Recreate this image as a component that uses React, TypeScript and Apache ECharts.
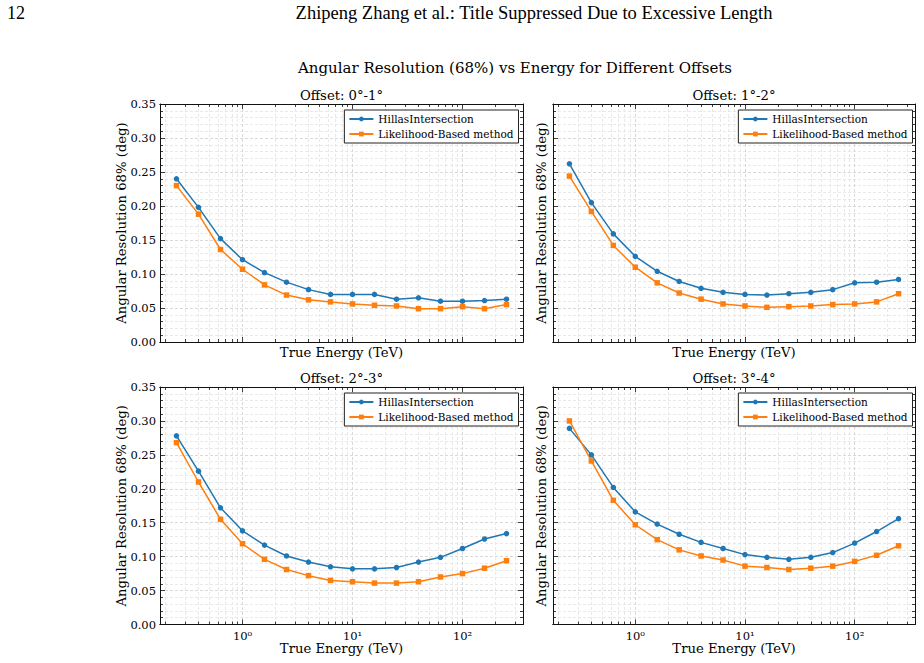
import React, { useEffect, useRef } from 'react';
import * as echarts from 'echarts';

// Energy bin centres (TeV), shared by all offset bands
const energies = [0.251, 0.398, 0.631, 1.0, 1.585, 2.512, 3.981, 6.31, 10.0, 15.85, 25.12, 39.81, 63.1, 100.0, 158.5, 251.2];

const seriesNames = ['HillasIntersection', 'Likelihood-Based method'];
const panelTitles = ['Offset: 0°-1°', 'Offset: 1°-2°', 'Offset: 2°-3°', 'Offset: 3°-4°'];

// 68% containment radius (deg), HillasIntersection
const hillas0to1 = [0.240, 0.198, 0.152, 0.121, 0.102, 0.088, 0.077, 0.070, 0.070, 0.070, 0.063, 0.065, 0.060, 0.060, 0.061, 0.063];
const hillas1to2 = [0.262, 0.205, 0.159, 0.126, 0.104, 0.089, 0.079, 0.073, 0.070, 0.069, 0.071, 0.073, 0.077, 0.087, 0.088, 0.092];
const hillas2to3 = [0.278, 0.226, 0.172, 0.138, 0.117, 0.101, 0.092, 0.085, 0.082, 0.082, 0.084, 0.092, 0.099, 0.112, 0.126, 0.134];
const hillas3to4 = [0.289, 0.250, 0.202, 0.166, 0.148, 0.133, 0.121, 0.112, 0.103, 0.099, 0.096, 0.099, 0.106, 0.120, 0.137, 0.156];

// 68% containment radius (deg), likelihood-based reconstruction
const like0to1 = [0.230, 0.188, 0.136, 0.107, 0.084, 0.069, 0.062, 0.059, 0.056, 0.054, 0.053, 0.049, 0.049, 0.052, 0.049, 0.055];
const like1to2 = [0.244, 0.192, 0.142, 0.110, 0.087, 0.072, 0.063, 0.056, 0.053, 0.051, 0.052, 0.053, 0.055, 0.056, 0.059, 0.071];
const like2to3 = [0.268, 0.210, 0.155, 0.119, 0.096, 0.081, 0.072, 0.065, 0.063, 0.061, 0.061, 0.063, 0.070, 0.075, 0.083, 0.094];
const like3to4 = [0.300, 0.241, 0.183, 0.147, 0.125, 0.110, 0.101, 0.095, 0.086, 0.084, 0.081, 0.083, 0.086, 0.093, 0.102, 0.116];

const hillasByPanel = [hillas0to1, hillas1to2, hillas2to3, hillas3to4];
const likeByPanel = [like0to1, like1to2, like2to3, like3to4];

// Axis ticks
const xMajorTicks = [1, 10, 100];
const xMinorTicks = [0.2, 0.3, 0.4, 0.5, 0.6, 0.7, 0.8, 0.9, 2, 3, 4, 5, 6, 7, 8, 9, 20, 30, 40, 50, 60, 70, 80, 90, 200, 300];
const xTickLabels = ['10⁰', '10¹', '10²'];
const yMin = 0;
const yMax = 0.35;
const yStep = 0.05;

const xLabel = 'True Energy (TeV)';
const yLabel = 'Angular Resolution 68% (deg)';
const figTitle = 'Angular Resolution (68%) vs Energy for Different Offsets';
const pageHeader = 'Zhipeng Zhang et al.: Title Suppressed Due to Excessive Length';
const pageNumber = '12';

// Layout
const W = 924;
const H = 663;
const X_LO = Math.pow(10, -0.75);
const X_HI = Math.pow(10, 2.55);
const panels = [
  { left: 160, top: 104, width: 363, height: 238, legendRight: 518.5 },
  { left: 553, top: 104, width: 362, height: 238, legendRight: 912.5 },
  { left: 160, top: 387, width: 363, height: 237.5, legendRight: 518.5 },
  { left: 553, top: 387, width: 362, height: 237.5, legendRight: 912.5 },
];

const SERIF = '"DejaVu Serif", serif';
const TEX = '"Liberation Serif", serif';
const BLUE = '#1f77b4';
const ORANGE = '#ff7f0e';
const AXIS = '#111';
const GRID_MAJOR = '#cfcfcf';
const GRID_MINOR = '#e3e3e3';
const LABEL_SIZE = 13.2;

function buildOption() {
  const xAxis: any[] = [];
  const yAxis: any[] = [];
  const series: any[] = [];
  const legend: any[] = [];
  const grid: any[] = [];
  const graphic: any[] = [];

  const text = (x: number, y: number, str: string, size: number, family = SERIF, align = 'center', rotation = 0) => ({
    type: 'text',
    x,
    y,
    rotation,
    style: {
      text: str,
      fontFamily: family,
      fontSize: size,
      fontWeight: 'normal',
      fill: '#000',
      textAlign: align,
      textVerticalAlign: 'middle',
    },
  });

  panels.forEach((p, i) => {
    grid.push({ left: p.left, top: p.top, width: p.width, height: p.height, containLabel: false });
    const bottomRow = i >= 2;
    const leftCol = i % 2 === 0;

    const xAx = (position: string, ticks: number[], len: number, labels: boolean, split: string | null) => ({
      type: 'log',
      logBase: 10,
      gridIndex: i,
      position,
      min: X_LO,
      max: X_HI,
      axisLine: { show: true, onZero: false, lineStyle: { color: AXIS, width: 1 } },
      axisTick: { show: true, inside: true, length: len, customValues: ticks, lineStyle: { color: AXIS, width: 0.8 } },
      axisLabel: {
        show: labels,
        customValues: ticks,
        margin: 5,
        color: '#000',
        fontFamily: SERIF,
        fontSize: 11.5,
        formatter: (v: number) => xTickLabels[xMajorTicks.indexOf(Math.round(v))] ?? '',
      },
      splitLine: split
        ? { show: true, lineStyle: { color: split, type: [3, 2], width: 0.8 } }
        : { show: false },
      minorTick: { show: false },
      minorSplitLine: { show: false },
    });
    xAxis.push(xAx('bottom', xMajorTicks, 5, bottomRow, GRID_MAJOR));
    xAxis.push(xAx('bottom', xMinorTicks, 3, false, GRID_MINOR));
    xAxis.push(xAx('top', xMajorTicks, 5, false, null));
    xAxis.push(xAx('top', xMinorTicks, 3, false, null));

    const yAx = (position: string, labels: boolean, split: boolean) => ({
      type: 'value',
      gridIndex: i,
      position,
      min: yMin,
      max: yMax,
      interval: yStep,
      axisLine: { show: true, onZero: false, lineStyle: { color: AXIS, width: 1 } },
      axisTick: { show: true, inside: true, length: 5, lineStyle: { color: AXIS, width: 0.8 } },
      minorTick: { show: true, splitNumber: 5, length: 3, lineStyle: { color: AXIS, width: 0.8 } },
      axisLabel: {
        show: labels,
        margin: 4,
        color: '#000',
        fontFamily: SERIF,
        fontSize: 11.5,
        formatter: (v: number) => v.toFixed(2),
      },
      splitLine: { show: split, lineStyle: { color: GRID_MAJOR, type: [3, 2], width: 0.8 } },
      minorSplitLine: { show: split, lineStyle: { color: GRID_MINOR, type: [3, 2], width: 0.8 } },
    });
    yAxis.push(yAx('left', leftCol, true));
    yAxis.push(yAx('right', false, false));

    const hill = hillasByPanel[i];
    const like = likeByPanel[i];
    series.push({
      type: 'line',
      name: seriesNames[0],
      xAxisIndex: i * 4,
      yAxisIndex: i * 2,
      data: energies.map((e, k) => [e, hill[k]]),
      symbol: 'circle',
      symbolSize: 5.5,
      lineStyle: { color: BLUE, width: 1.5 },
      itemStyle: { color: BLUE },
      z: 3,
    });
    series.push({
      type: 'line',
      name: seriesNames[1],
      xAxisIndex: i * 4,
      yAxisIndex: i * 2,
      data: energies.map((e, k) => [e, like[k]]),
      symbol: 'rect',
      symbolSize: 5.5,
      lineStyle: { color: ORANGE, width: 1.5 },
      itemStyle: { color: ORANGE },
      z: 3,
    });

    legend.push({
      data: seriesNames,
      orient: 'vertical',
      align: 'left',
      right: W - p.legendRight,
      top: p.top + 6,
      itemWidth: 24,
      itemHeight: 6,
      itemGap: 3,
      padding: [3, 5, 3, 4],
      backgroundColor: '#fff',
      borderColor: '#222',
      borderWidth: 1,
      borderRadius: 0,
      selectedMode: false,
      textStyle: { fontFamily: SERIF, fontSize: 10.5, color: '#000', lineHeight: 12 },
      z: 10,
    });

    const cx = p.left + p.width / 2;
    const cy = p.top + p.height / 2;
    graphic.push(text(cx, p.top - 9, panelTitles[i], 13.2));
    graphic.push(text(cx, p.top + p.height + (bottomRow ? 24 : 10), xLabel, LABEL_SIZE));
    graphic.push(text(leftCol ? 121 : 541, cy, yLabel, LABEL_SIZE, SERIF, 'center', Math.PI / 2));
  });

  graphic.push(text(7, 13, pageNumber, 18, TEX, 'left'));
  graphic.push(text(534, 13, pageHeader, 18.5, TEX));
  graphic.push(text(515, 68, figTitle, 15));

  return {
    animation: false,
    backgroundColor: '#fff',
    grid,
    xAxis,
    yAxis,
    series,
    legend,
    graphic,
  };
}

export default function App() {
  const ref = useRef<HTMLDivElement>(null);
  useEffect(() => {
    document.body.style.margin = '0';
    if (!ref.current) return;
    const chart = echarts.init(ref.current, undefined, { renderer: 'svg' });
    chart.setOption(buildOption() as any);
    return () => chart.dispose();
  }, []);
  return <div ref={ref} style={{ width: W, height: H }} />;
}
